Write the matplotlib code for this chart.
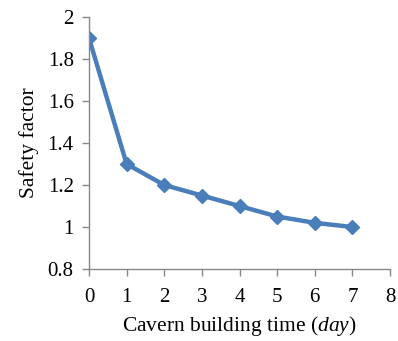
import matplotlib
matplotlib.use('Agg')
import matplotlib.pyplot as plt

# data
days = [0, 1, 2, 3, 4, 5, 6, 7]
safety = [1.9, 1.3, 1.2, 1.15, 1.1, 1.05, 1.02, 1.0]

plt.rcParams['font.family'] = ['Liberation Serif', 'DejaVu Serif']
plt.rcParams['mathtext.fontset'] = 'custom'
plt.rcParams['mathtext.it'] = 'Liberation Serif:italic'
plt.rcParams['mathtext.rm'] = 'Liberation Serif'

fig = plt.figure(figsize=(3.98, 3.41), dpi=100)
ax = fig.add_axes([0.2236, 0.2111, 0.7564, 0.7389])

ax.plot(days, safety, color='#4A7EBB', lw=3.2, marker='D', ms=7.5,
        markeredgecolor='#4A7EBB')

ax.set_xlim(0, 8)
ax.set_ylim(0.8, 2.0)
ax.set_xticks(range(0, 9))
ax.set_yticks([0.8, 1.0, 1.2, 1.4, 1.6, 1.8, 2.0])
ax.set_yticklabels(['0.8', '1', '1.2', '1.4', '1.6', '1.8', '2'])

for s in ['top', 'right']:
    ax.spines[s].set_visible(False)
for s in ['left', 'bottom']:
    ax.spines[s].set_color('#888888')
    ax.spines[s].set_linewidth(1.0)
ax.tick_params(axis='both', colors='#888888', labelcolor='black',
               labelsize=15, length=5, width=1.0, direction='out')
ax.tick_params(axis='x', pad=9)
ax.tick_params(axis='y', pad=6)

ax.set_xlabel('Cavern building time ($day$)', fontsize=15.5, labelpad=5)
ax.set_ylabel('Safety factor', fontsize=15.5, labelpad=6)

fig.savefig('out.png', dpi=100)
